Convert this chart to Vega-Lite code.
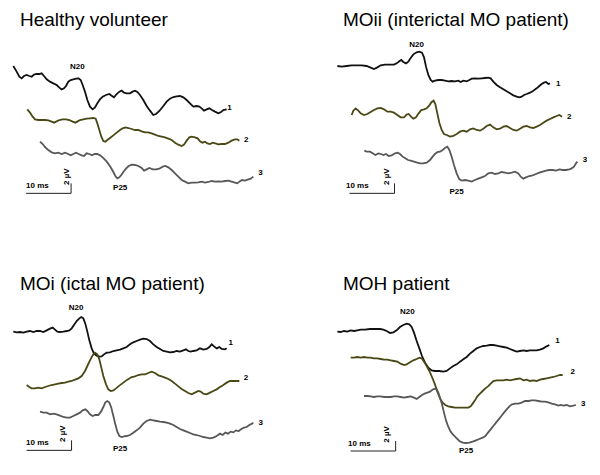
{
"$schema": "https://vega.github.io/schema/vega-lite/v6.json",
"padding": {"top": 11, "left": 0, "right": 0, "bottom": 0},
"background": "white",
"config": {"view": {"stroke": null}, "title": {"anchor": "start", "font": "Liberation Sans", "fontSize": 19, "fontWeight": "normal", "offset": 10, "color": "#000000"}, "text": {"font": "Liberation Sans", "fontWeight": "bold", "fontSize": 8, "color": "#000000"}, "line": {"strokeWidth": 1.8}},
"datasets": {
"HV1": [{"t":2.96,"v":13.2},{"t":3.70,"v":14.33},{"t":4.30,"v":15.33},{"t":4.81,"v":15.67},{"t":5.33,"v":15.2},{"t":5.93,"v":15.0},{"t":6.52,"v":15.2},{"t":7.04,"v":15.33},{"t":7.56,"v":14.93},{"t":8.15,"v":14.8},{"t":8.74,"v":14.8},{"t":9.26,"v":14.67},{"t":9.78,"v":15.2},{"t":10.37,"v":15.87},{"t":11.11,"v":16.33},{"t":11.85,"v":16.67},{"t":12.59,"v":17.0},{"t":13.19,"v":17.53},{"t":13.70,"v":17.87},{"t":14.22,"v":17.67},{"t":14.67,"v":17.2},{"t":15.19,"v":16.33},{"t":15.70,"v":16.0},{"t":16.30,"v":15.87},{"t":16.89,"v":15.73},{"t":17.48,"v":15.67},{"t":17.93,"v":16.0},{"t":18.37,"v":17.0},{"t":18.89,"v":18.33},{"t":19.41,"v":20.0},{"t":20.0,"v":21.33},{"t":20.59,"v":21.87},{"t":21.11,"v":21.47},{"t":21.63,"v":20.67},{"t":22.22,"v":19.87},{"t":22.81,"v":19.33},{"t":23.56,"v":19.0},{"t":24.30,"v":18.8},{"t":24.81,"v":19.13},{"t":25.33,"v":19.47},{"t":25.93,"v":18.8},{"t":26.52,"v":18.33},{"t":27.04,"v":18.13},{"t":27.56,"v":18.53},{"t":28.15,"v":18.67},{"t":28.89,"v":18.67},{"t":29.48,"v":18.33},{"t":30.0,"v":18.13},{"t":30.52,"v":18.4},{"t":31.11,"v":19.0},{"t":31.85,"v":20.0},{"t":32.59,"v":21.2},{"t":33.33,"v":22.13},{"t":34.07,"v":23.0},{"t":34.67,"v":22.8},{"t":35.41,"v":22.2},{"t":36.30,"v":21.2},{"t":37.04,"v":20.33},{"t":37.78,"v":19.73},{"t":38.52,"v":19.4},{"t":39.26,"v":19.27},{"t":40.0,"v":19.2},{"t":40.74,"v":19.47},{"t":41.48,"v":20.0},{"t":42.22,"v":20.67},{"t":42.96,"v":21.33},{"t":43.70,"v":21.2},{"t":44.30,"v":21.33},{"t":44.81,"v":21.67},{"t":45.33,"v":22.13},{"t":45.93,"v":21.87},{"t":46.52,"v":21.67},{"t":47.11,"v":22.0},{"t":47.78,"v":22.33},{"t":48.52,"v":22.67},{"t":49.04,"v":22.47},{"t":49.63,"v":22.0},{"t":50.37,"v":21.87}],
"HV2": [{"t":6.07,"v":21.87},{"t":6.67,"v":22.53},{"t":7.26,"v":23.33},{"t":7.78,"v":23.87},{"t":8.52,"v":24.0},{"t":9.26,"v":24.0},{"t":10.0,"v":24.0},{"t":10.74,"v":24.07},{"t":11.48,"v":24.33},{"t":12.0,"v":24.53},{"t":12.59,"v":24.27},{"t":13.19,"v":24.0},{"t":13.93,"v":23.87},{"t":14.67,"v":23.87},{"t":15.41,"v":24.0},{"t":16.15,"v":24.33},{"t":16.74,"v":24.53},{"t":17.26,"v":24.27},{"t":17.78,"v":24.0},{"t":18.52,"v":23.87},{"t":19.26,"v":23.73},{"t":20.0,"v":23.67},{"t":20.74,"v":23.6},{"t":21.26,"v":23.73},{"t":21.63,"v":24.67},{"t":22.07,"v":26.0},{"t":22.52,"v":27.33},{"t":22.96,"v":28.2},{"t":23.41,"v":28.33},{"t":23.85,"v":28.0},{"t":24.44,"v":27.6},{"t":25.19,"v":27.07},{"t":25.93,"v":26.53},{"t":26.67,"v":26.0},{"t":27.26,"v":25.67},{"t":27.85,"v":25.47},{"t":28.52,"v":25.6},{"t":29.26,"v":25.8},{"t":30.0,"v":26.0},{"t":30.74,"v":26.0},{"t":31.48,"v":26.27},{"t":32.22,"v":26.47},{"t":32.96,"v":26.47},{"t":33.70,"v":26.67},{"t":34.44,"v":26.93},{"t":35.19,"v":27.2},{"t":35.93,"v":27.33},{"t":36.67,"v":27.47},{"t":37.41,"v":27.73},{"t":38.15,"v":28.0},{"t":38.89,"v":28.53},{"t":39.63,"v":28.93},{"t":40.37,"v":29.2},{"t":40.89,"v":28.93},{"t":41.48,"v":28.13},{"t":42.07,"v":27.47},{"t":42.59,"v":27.33},{"t":43.33,"v":27.47},{"t":43.93,"v":27.67},{"t":44.44,"v":28.27},{"t":44.96,"v":28.53},{"t":45.56,"v":28.33},{"t":46.07,"v":28.67},{"t":46.67,"v":28.8},{"t":47.26,"v":28.53},{"t":47.85,"v":28.67},{"t":48.52,"v":28.87},{"t":49.26,"v":28.8},{"t":50.0,"v":28.8},{"t":50.74,"v":28.53},{"t":51.48,"v":28.13},{"t":52.22,"v":27.87},{"t":52.74,"v":27.87},{"t":53.19,"v":28.13}],
"HV3": [{"t":8.89,"v":28.33},{"t":9.48,"v":28.8},{"t":10.07,"v":29.47},{"t":10.74,"v":30.0},{"t":11.48,"v":30.47},{"t":12.22,"v":30.67},{"t":12.96,"v":30.53},{"t":13.70,"v":30.8},{"t":14.44,"v":30.53},{"t":15.19,"v":30.8},{"t":15.70,"v":31.07},{"t":16.30,"v":30.8},{"t":16.89,"v":30.53},{"t":17.48,"v":30.8},{"t":18.15,"v":31.07},{"t":18.67,"v":31.2},{"t":19.26,"v":30.67},{"t":19.85,"v":30.8},{"t":20.44,"v":31.07},{"t":21.04,"v":30.8},{"t":21.63,"v":30.8},{"t":22.22,"v":31.07},{"t":22.81,"v":31.47},{"t":23.41,"v":32.0},{"t":24.0,"v":32.67},{"t":24.59,"v":33.47},{"t":25.19,"v":34.4},{"t":25.63,"v":35.2},{"t":26.07,"v":35.67},{"t":26.52,"v":35.47},{"t":26.96,"v":35.0},{"t":27.41,"v":34.4},{"t":28.0,"v":33.73},{"t":28.59,"v":33.2},{"t":29.26,"v":32.93},{"t":30.0,"v":33.0},{"t":30.74,"v":33.2},{"t":31.48,"v":33.6},{"t":32.0,"v":34.13},{"t":32.59,"v":33.87},{"t":33.19,"v":33.6},{"t":33.93,"v":33.87},{"t":34.67,"v":33.87},{"t":35.41,"v":33.73},{"t":36.15,"v":33.33},{"t":36.74,"v":33.2},{"t":37.41,"v":33.47},{"t":38.15,"v":34.0},{"t":38.89,"v":34.67},{"t":39.63,"v":35.33},{"t":40.37,"v":36.0},{"t":41.11,"v":36.33},{"t":41.85,"v":36.67},{"t":42.59,"v":36.53},{"t":43.33,"v":36.53},{"t":44.07,"v":36.47},{"t":44.81,"v":36.33},{"t":45.56,"v":36.53},{"t":46.30,"v":36.4},{"t":47.04,"v":36.2},{"t":47.78,"v":36.33},{"t":48.52,"v":36.27},{"t":49.26,"v":36.33},{"t":50.0,"v":36.2},{"t":50.74,"v":36.13},{"t":51.48,"v":36.33},{"t":52.22,"v":36.53},{"t":52.74,"v":36.67},{"t":53.19,"v":36.33},{"t":53.78,"v":36.0},{"t":54.44,"v":36.13},{"t":55.19,"v":35.87},{"t":55.70,"v":35.73},{"t":56.30,"v":35.33}],
"MOii1": [{"t":8.30,"v":13.2},{"t":9.26,"v":13.33},{"t":10.37,"v":13.2},{"t":11.48,"v":13.07},{"t":12.59,"v":13.07},{"t":13.70,"v":13.07},{"t":14.81,"v":13.2},{"t":15.70,"v":13.53},{"t":16.44,"v":13.8},{"t":17.19,"v":13.47},{"t":17.93,"v":13.07},{"t":18.89,"v":12.93},{"t":20.0,"v":12.93},{"t":20.89,"v":12.93},{"t":21.48,"v":12.67},{"t":22.07,"v":12.27},{"t":22.52,"v":12.0},{"t":22.96,"v":12.4},{"t":23.56,"v":12.67},{"t":24.07,"v":12.33},{"t":24.59,"v":11.6},{"t":25.19,"v":10.87},{"t":25.93,"v":10.47},{"t":26.52,"v":10.33},{"t":27.11,"v":10.53},{"t":27.56,"v":11.47},{"t":28.0,"v":13.33},{"t":28.52,"v":15.0},{"t":29.04,"v":16.0},{"t":29.48,"v":16.33},{"t":30.0,"v":16.13},{"t":30.74,"v":16.0},{"t":31.48,"v":16.0},{"t":32.22,"v":16.13},{"t":32.96,"v":16.27},{"t":33.70,"v":16.2},{"t":34.44,"v":16.27},{"t":35.19,"v":16.13},{"t":35.70,"v":16.4},{"t":36.30,"v":16.13},{"t":37.04,"v":16.27},{"t":37.63,"v":16.0},{"t":38.15,"v":15.73},{"t":38.89,"v":15.67},{"t":39.63,"v":15.73},{"t":40.37,"v":15.67},{"t":41.11,"v":15.6},{"t":41.85,"v":15.53},{"t":42.37,"v":15.67},{"t":42.96,"v":16.33},{"t":43.70,"v":17.0},{"t":44.44,"v":17.47},{"t":45.19,"v":17.87},{"t":45.93,"v":18.27},{"t":46.67,"v":18.67},{"t":47.41,"v":19.07},{"t":48.15,"v":19.33},{"t":48.74,"v":19.47},{"t":49.26,"v":19.33},{"t":49.78,"v":19.0},{"t":50.37,"v":18.8},{"t":51.11,"v":18.53},{"t":51.85,"v":18.13},{"t":52.59,"v":17.67},{"t":53.19,"v":17.2},{"t":53.70,"v":16.8},{"t":54.22,"v":16.53},{"t":54.67,"v":16.4},{"t":55.19,"v":16.8},{"t":55.56,"v":16.67}],
"MOii2": [{"t":11.48,"v":23.0},{"t":11.85,"v":22.13},{"t":12.37,"v":21.67},{"t":12.96,"v":22.13},{"t":13.48,"v":22.67},{"t":14.22,"v":23.0},{"t":14.96,"v":22.8},{"t":15.70,"v":22.4},{"t":16.44,"v":22.0},{"t":17.19,"v":21.67},{"t":17.93,"v":21.6},{"t":18.67,"v":21.87},{"t":19.41,"v":22.33},{"t":20.15,"v":22.33},{"t":20.89,"v":22.53},{"t":21.63,"v":23.0},{"t":22.37,"v":23.47},{"t":23.11,"v":23.47},{"t":23.70,"v":22.93},{"t":24.15,"v":22.8},{"t":24.67,"v":23.33},{"t":25.19,"v":23.73},{"t":25.78,"v":23.47},{"t":26.37,"v":22.67},{"t":26.96,"v":22.0},{"t":27.56,"v":21.87},{"t":28.15,"v":21.67},{"t":28.74,"v":21.07},{"t":29.26,"v":20.4},{"t":29.70,"v":20.13},{"t":30.07,"v":20.8},{"t":30.52,"v":22.67},{"t":30.96,"v":24.53},{"t":31.48,"v":26.0},{"t":32.0,"v":26.8},{"t":32.59,"v":27.0},{"t":33.33,"v":27.33},{"t":34.07,"v":27.2},{"t":34.81,"v":26.8},{"t":35.56,"v":26.33},{"t":36.30,"v":26.13},{"t":37.04,"v":26.33},{"t":37.78,"v":25.87},{"t":38.52,"v":25.67},{"t":39.26,"v":26.0},{"t":40.0,"v":26.13},{"t":40.74,"v":25.73},{"t":41.48,"v":25.2},{"t":42.22,"v":24.93},{"t":42.96,"v":25.47},{"t":43.70,"v":25.87},{"t":44.44,"v":25.73},{"t":45.19,"v":25.33},{"t":45.93,"v":25.2},{"t":46.67,"v":25.6},{"t":47.41,"v":26.0},{"t":48.15,"v":26.13},{"t":48.89,"v":25.73},{"t":49.63,"v":25.33},{"t":50.37,"v":25.2},{"t":51.11,"v":25.47},{"t":51.85,"v":25.6},{"t":52.59,"v":25.33},{"t":53.33,"v":25.0},{"t":54.07,"v":24.53},{"t":54.81,"v":24.13},{"t":55.56,"v":23.8},{"t":56.30,"v":23.47},{"t":57.04,"v":23.2},{"t":57.63,"v":23.0},{"t":58.22,"v":23.33}],
"MOii3": [{"t":14.30,"v":30.13},{"t":14.81,"v":30.33},{"t":15.56,"v":30.33},{"t":16.15,"v":30.67},{"t":16.74,"v":31.0},{"t":17.41,"v":30.67},{"t":18.0,"v":30.8},{"t":18.52,"v":31.0},{"t":19.11,"v":30.8},{"t":19.70,"v":31.2},{"t":20.37,"v":31.07},{"t":21.11,"v":30.67},{"t":21.70,"v":30.53},{"t":22.22,"v":30.8},{"t":22.81,"v":31.33},{"t":23.41,"v":31.67},{"t":24.0,"v":32.0},{"t":24.59,"v":32.13},{"t":25.33,"v":32.33},{"t":26.07,"v":32.53},{"t":26.67,"v":32.67},{"t":27.41,"v":32.67},{"t":28.15,"v":32.53},{"t":28.89,"v":32.0},{"t":29.48,"v":31.33},{"t":30.0,"v":30.8},{"t":30.52,"v":30.4},{"t":31.11,"v":30.33},{"t":31.70,"v":30.0},{"t":32.30,"v":29.53},{"t":32.74,"v":29.33},{"t":33.19,"v":30.0},{"t":33.70,"v":31.33},{"t":34.22,"v":33.0},{"t":34.81,"v":34.67},{"t":35.41,"v":35.87},{"t":36.0,"v":36.13},{"t":36.67,"v":36.0},{"t":37.41,"v":36.13},{"t":38.15,"v":36.33},{"t":38.89,"v":36.0},{"t":39.63,"v":35.73},{"t":40.37,"v":35.47},{"t":41.11,"v":35.2},{"t":41.85,"v":34.67},{"t":42.59,"v":34.53},{"t":43.33,"v":34.8},{"t":44.07,"v":34.67},{"t":44.81,"v":34.4},{"t":45.56,"v":34.53},{"t":46.30,"v":34.67},{"t":47.04,"v":34.53},{"t":47.78,"v":34.33},{"t":48.52,"v":34.67},{"t":49.04,"v":35.33},{"t":49.63,"v":35.73},{"t":50.22,"v":35.47},{"t":50.96,"v":35.2},{"t":51.70,"v":35.07},{"t":52.44,"v":34.8},{"t":53.19,"v":34.53},{"t":53.93,"v":34.33},{"t":54.67,"v":34.13},{"t":55.41,"v":34.0},{"t":56.15,"v":34.0},{"t":56.89,"v":34.13},{"t":57.63,"v":33.87},{"t":58.37,"v":34.0},{"t":59.11,"v":34.0},{"t":59.85,"v":33.87},{"t":60.37,"v":33.67},{"t":60.89,"v":33.33},{"t":61.33,"v":32.67},{"t":61.63,"v":32.33}],
"MOi1": [{"t":2.96,"v":14.13},{"t":3.70,"v":14.27},{"t":4.44,"v":14.2},{"t":5.19,"v":14.33},{"t":5.93,"v":14.13},{"t":6.67,"v":14.0},{"t":7.41,"v":14.2},{"t":8.15,"v":14.0},{"t":8.89,"v":14.0},{"t":9.63,"v":14.2},{"t":10.37,"v":13.87},{"t":11.11,"v":13.53},{"t":11.70,"v":13.33},{"t":12.22,"v":13.73},{"t":12.74,"v":14.13},{"t":13.33,"v":14.2},{"t":14.07,"v":14.13},{"t":14.81,"v":14.0},{"t":15.41,"v":13.87},{"t":15.93,"v":13.47},{"t":16.44,"v":12.8},{"t":17.04,"v":12.0},{"t":17.63,"v":11.47},{"t":18.07,"v":11.2},{"t":18.52,"v":11.47},{"t":18.96,"v":12.53},{"t":19.41,"v":14.13},{"t":19.85,"v":15.87},{"t":20.37,"v":17.47},{"t":20.89,"v":18.53},{"t":21.48,"v":18.93},{"t":22.07,"v":19.13},{"t":22.59,"v":19.07},{"t":23.11,"v":18.67},{"t":23.70,"v":18.33},{"t":24.44,"v":18.27},{"t":25.19,"v":18.0},{"t":25.93,"v":17.87},{"t":26.67,"v":17.73},{"t":27.41,"v":17.47},{"t":28.15,"v":17.2},{"t":28.89,"v":16.67},{"t":29.63,"v":16.27},{"t":30.37,"v":16.0},{"t":31.11,"v":15.73},{"t":31.85,"v":15.53},{"t":32.59,"v":15.6},{"t":33.33,"v":16.0},{"t":34.07,"v":16.67},{"t":34.81,"v":17.2},{"t":35.56,"v":17.6},{"t":36.30,"v":18.0},{"t":37.04,"v":18.13},{"t":37.78,"v":18.27},{"t":38.52,"v":18.2},{"t":39.26,"v":18.0},{"t":40.0,"v":18.13},{"t":40.74,"v":17.87},{"t":41.33,"v":17.67},{"t":41.85,"v":18.0},{"t":42.37,"v":18.13},{"t":42.96,"v":18.0},{"t":43.70,"v":17.87},{"t":44.44,"v":17.47},{"t":45.19,"v":17.73},{"t":45.93,"v":17.6},{"t":46.52,"v":17.2},{"t":47.04,"v":16.67},{"t":47.56,"v":17.07},{"t":48.15,"v":17.47},{"t":48.74,"v":17.2},{"t":49.26,"v":17.6},{"t":50.0,"v":17.67},{"t":50.37,"v":17.47}],
"MOi2": [{"t":5.93,"v":24.8},{"t":6.52,"v":25.2},{"t":7.04,"v":25.47},{"t":7.78,"v":25.47},{"t":8.52,"v":25.33},{"t":9.26,"v":25.47},{"t":10.0,"v":25.2},{"t":10.74,"v":25.0},{"t":11.48,"v":24.8},{"t":12.22,"v":24.67},{"t":12.96,"v":24.53},{"t":13.70,"v":24.4},{"t":14.44,"v":24.33},{"t":15.19,"v":24.13},{"t":15.93,"v":24.0},{"t":16.67,"v":23.73},{"t":17.41,"v":23.47},{"t":18.15,"v":23.0},{"t":18.89,"v":22.0},{"t":19.41,"v":21.0},{"t":20.0,"v":19.87},{"t":20.59,"v":18.87},{"t":21.11,"v":18.33},{"t":21.63,"v":18.67},{"t":22.07,"v":19.67},{"t":22.52,"v":21.33},{"t":22.96,"v":23.0},{"t":23.56,"v":24.67},{"t":24.07,"v":25.67},{"t":24.59,"v":26.0},{"t":25.19,"v":25.87},{"t":25.78,"v":25.47},{"t":26.52,"v":24.93},{"t":27.41,"v":24.33},{"t":28.30,"v":23.73},{"t":29.26,"v":23.2},{"t":30.0,"v":23.07},{"t":30.74,"v":22.8},{"t":31.48,"v":22.67},{"t":32.22,"v":22.67},{"t":32.96,"v":22.4},{"t":33.70,"v":22.13},{"t":34.44,"v":22.4},{"t":35.19,"v":22.87},{"t":35.93,"v":23.07},{"t":36.67,"v":23.33},{"t":37.41,"v":23.6},{"t":38.15,"v":24.0},{"t":38.89,"v":24.53},{"t":39.63,"v":25.07},{"t":40.37,"v":25.6},{"t":41.11,"v":26.0},{"t":41.85,"v":26.4},{"t":42.59,"v":26.67},{"t":43.33,"v":26.33},{"t":44.07,"v":26.0},{"t":44.59,"v":26.13},{"t":45.19,"v":26.53},{"t":45.93,"v":26.67},{"t":46.67,"v":26.33},{"t":47.41,"v":26.0},{"t":48.15,"v":25.67},{"t":48.89,"v":25.2},{"t":49.63,"v":24.8},{"t":50.37,"v":24.33},{"t":51.11,"v":24.0},{"t":51.85,"v":24.0},{"t":52.59,"v":24.0},{"t":53.19,"v":24.0}],
"MOi3": [{"t":8.89,"v":30.13},{"t":9.63,"v":30.33},{"t":10.37,"v":30.33},{"t":11.11,"v":30.67},{"t":11.85,"v":30.53},{"t":12.59,"v":30.67},{"t":13.33,"v":30.93},{"t":14.07,"v":31.2},{"t":14.81,"v":31.33},{"t":15.56,"v":31.33},{"t":16.30,"v":31.0},{"t":17.04,"v":30.67},{"t":17.78,"v":30.33},{"t":18.37,"v":29.87},{"t":18.96,"v":29.67},{"t":19.41,"v":30.0},{"t":20.0,"v":30.67},{"t":20.59,"v":31.0},{"t":21.19,"v":30.8},{"t":21.85,"v":30.8},{"t":22.44,"v":30.13},{"t":22.96,"v":29.2},{"t":23.41,"v":28.27},{"t":23.85,"v":28.0},{"t":24.30,"v":28.33},{"t":24.74,"v":29.33},{"t":25.19,"v":31.0},{"t":25.63,"v":32.67},{"t":26.07,"v":34.13},{"t":26.52,"v":35.0},{"t":27.04,"v":35.2},{"t":27.56,"v":35.07},{"t":28.15,"v":35.0},{"t":28.89,"v":34.8},{"t":29.63,"v":34.33},{"t":30.37,"v":33.87},{"t":31.11,"v":33.33},{"t":31.85,"v":32.53},{"t":32.59,"v":32.0},{"t":33.33,"v":31.73},{"t":34.07,"v":31.87},{"t":34.81,"v":32.0},{"t":35.56,"v":32.13},{"t":36.30,"v":32.2},{"t":37.04,"v":32.33},{"t":37.78,"v":32.53},{"t":38.52,"v":32.8},{"t":39.26,"v":33.2},{"t":40.0,"v":33.6},{"t":40.74,"v":33.87},{"t":41.48,"v":34.13},{"t":42.22,"v":34.4},{"t":42.96,"v":34.67},{"t":43.70,"v":34.8},{"t":44.44,"v":35.0},{"t":45.19,"v":35.2},{"t":45.93,"v":35.33},{"t":46.67,"v":35.47},{"t":47.41,"v":35.33},{"t":48.15,"v":35.0},{"t":48.89,"v":34.53},{"t":49.48,"v":34.8},{"t":50.07,"v":34.33},{"t":50.67,"v":34.53},{"t":51.26,"v":34.13},{"t":51.85,"v":34.27},{"t":52.44,"v":33.87},{"t":53.04,"v":34.0},{"t":53.63,"v":33.6},{"t":54.22,"v":33.33},{"t":54.81,"v":33.2},{"t":55.41,"v":32.8},{"t":56.0,"v":32.53},{"t":56.30,"v":32.33}],
"MOH1": [{"t":8.30,"v":14.13},{"t":9.04,"v":14.2},{"t":9.78,"v":14.0},{"t":10.52,"v":14.13},{"t":11.26,"v":13.87},{"t":12.0,"v":14.0},{"t":12.74,"v":13.87},{"t":13.48,"v":13.73},{"t":14.44,"v":13.73},{"t":15.56,"v":13.6},{"t":16.67,"v":13.6},{"t":17.78,"v":13.6},{"t":18.52,"v":13.73},{"t":19.26,"v":14.0},{"t":20.0,"v":14.4},{"t":20.74,"v":14.27},{"t":21.48,"v":13.87},{"t":22.22,"v":13.2},{"t":22.96,"v":12.8},{"t":23.70,"v":12.53},{"t":24.30,"v":12.67},{"t":24.81,"v":13.2},{"t":25.33,"v":14.33},{"t":25.93,"v":16.0},{"t":26.52,"v":17.47},{"t":27.11,"v":19.0},{"t":27.78,"v":20.33},{"t":28.52,"v":21.33},{"t":29.26,"v":21.87},{"t":30.0,"v":22.0},{"t":30.96,"v":22.0},{"t":31.85,"v":22.13},{"t":32.59,"v":22.0},{"t":33.33,"v":21.47},{"t":34.07,"v":21.0},{"t":34.81,"v":20.67},{"t":35.56,"v":20.13},{"t":36.30,"v":19.67},{"t":37.04,"v":19.2},{"t":37.78,"v":18.53},{"t":38.52,"v":18.0},{"t":39.26,"v":17.47},{"t":40.0,"v":17.2},{"t":40.74,"v":17.0},{"t":41.48,"v":16.93},{"t":42.22,"v":16.8},{"t":42.96,"v":16.8},{"t":43.70,"v":16.93},{"t":44.44,"v":17.07},{"t":45.19,"v":17.2},{"t":45.93,"v":17.33},{"t":46.67,"v":17.6},{"t":47.41,"v":17.87},{"t":48.15,"v":18.13},{"t":48.89,"v":18.0},{"t":49.63,"v":17.87},{"t":50.37,"v":18.0},{"t":51.11,"v":17.87},{"t":51.85,"v":17.87},{"t":52.59,"v":17.87},{"t":53.33,"v":17.73},{"t":54.07,"v":17.47},{"t":54.81,"v":17.07},{"t":55.41,"v":16.8}],
"MOH2": [{"t":11.26,"v":19.33},{"t":12.0,"v":19.33},{"t":12.74,"v":19.2},{"t":13.48,"v":19.33},{"t":14.22,"v":19.2},{"t":14.96,"v":19.33},{"t":15.70,"v":19.33},{"t":16.44,"v":19.47},{"t":17.19,"v":19.47},{"t":17.93,"v":19.6},{"t":18.67,"v":19.73},{"t":19.41,"v":19.73},{"t":20.15,"v":19.87},{"t":20.89,"v":20.0},{"t":21.63,"v":20.13},{"t":22.37,"v":20.53},{"t":23.11,"v":20.8},{"t":23.70,"v":20.67},{"t":24.44,"v":20.27},{"t":25.19,"v":19.87},{"t":25.93,"v":19.6},{"t":26.52,"v":19.33},{"t":27.04,"v":19.47},{"t":27.56,"v":20.13},{"t":28.15,"v":21.0},{"t":28.74,"v":22.0},{"t":29.33,"v":23.2},{"t":29.93,"v":24.53},{"t":30.52,"v":26.13},{"t":31.11,"v":27.47},{"t":31.70,"v":28.33},{"t":32.30,"v":28.8},{"t":32.96,"v":29.07},{"t":33.70,"v":29.2},{"t":34.44,"v":29.33},{"t":35.19,"v":29.33},{"t":35.93,"v":29.33},{"t":36.67,"v":29.33},{"t":37.41,"v":29.33},{"t":37.93,"v":29.07},{"t":38.37,"v":28.53},{"t":38.89,"v":27.87},{"t":39.41,"v":27.07},{"t":40.0,"v":26.53},{"t":40.59,"v":26.0},{"t":41.19,"v":25.47},{"t":41.78,"v":25.07},{"t":42.37,"v":24.53},{"t":42.96,"v":24.0},{"t":43.70,"v":23.87},{"t":44.44,"v":23.87},{"t":45.19,"v":23.87},{"t":45.93,"v":23.73},{"t":46.67,"v":23.87},{"t":47.41,"v":23.73},{"t":48.15,"v":23.6},{"t":48.89,"v":23.47},{"t":49.63,"v":23.87},{"t":50.37,"v":23.73},{"t":51.11,"v":24.0},{"t":51.85,"v":23.87},{"t":52.59,"v":24.0},{"t":53.33,"v":23.73},{"t":54.07,"v":23.6},{"t":54.81,"v":23.47},{"t":55.56,"v":23.33},{"t":56.30,"v":23.2},{"t":57.04,"v":23.0},{"t":57.78,"v":22.8},{"t":58.37,"v":22.8}],
"MOH3": [{"t":14.22,"v":27.0},{"t":14.96,"v":27.0},{"t":15.70,"v":27.07},{"t":16.44,"v":27.2},{"t":17.19,"v":27.07},{"t":17.93,"v":27.07},{"t":18.67,"v":27.2},{"t":19.41,"v":27.2},{"t":20.15,"v":27.2},{"t":20.89,"v":27.07},{"t":21.63,"v":27.07},{"t":22.37,"v":27.2},{"t":23.11,"v":27.33},{"t":23.85,"v":27.2},{"t":24.59,"v":27.07},{"t":25.33,"v":27.33},{"t":25.93,"v":27.6},{"t":26.52,"v":27.2},{"t":27.11,"v":26.8},{"t":27.70,"v":26.53},{"t":28.30,"v":26.33},{"t":28.89,"v":26.13},{"t":29.48,"v":25.73},{"t":30.0,"v":25.53},{"t":30.37,"v":25.67},{"t":30.74,"v":26.33},{"t":31.11,"v":27.33},{"t":31.56,"v":28.67},{"t":32.0,"v":30.33},{"t":32.44,"v":31.87},{"t":32.96,"v":33.2},{"t":33.48,"v":34.13},{"t":34.07,"v":34.8},{"t":34.67,"v":35.33},{"t":35.41,"v":36.0},{"t":36.15,"v":36.33},{"t":36.89,"v":36.4},{"t":37.63,"v":36.33},{"t":38.37,"v":36.13},{"t":39.11,"v":35.87},{"t":39.85,"v":35.6},{"t":40.59,"v":35.33},{"t":41.19,"v":35.0},{"t":41.78,"v":34.33},{"t":42.37,"v":33.67},{"t":42.96,"v":33.0},{"t":43.56,"v":32.33},{"t":44.15,"v":31.67},{"t":44.74,"v":31.0},{"t":45.33,"v":30.33},{"t":45.93,"v":29.67},{"t":46.52,"v":29.07},{"t":47.11,"v":28.67},{"t":47.78,"v":28.53},{"t":48.52,"v":28.53},{"t":49.26,"v":28.33},{"t":50.0,"v":28.0},{"t":50.74,"v":28.0},{"t":51.48,"v":27.87},{"t":52.22,"v":27.87},{"t":52.96,"v":28.0},{"t":53.70,"v":28.13},{"t":54.44,"v":28.13},{"t":55.19,"v":28.27},{"t":55.93,"v":28.53},{"t":56.67,"v":28.67},{"t":57.41,"v":28.93},{"t":57.93,"v":28.8},{"t":58.52,"v":28.93},{"t":59.26,"v":28.8},{"t":60.0,"v":29.07},{"t":60.74,"v":28.93},{"t":61.33,"v":28.8}]
},
"vconcat": [
{"hconcat": [
{"title": {"text": "Healthy volunteer", "dx": 20}, "width": 300, "height": 200,
 "encoding": {"x": {"field": "t", "type": "quantitative", "scale": {"domain": [0, 66.667], "nice": false, "zero": false}, "axis": null}, "y": {"field": "v", "type": "quantitative", "scale": {"domain": [8, 48], "reverse": true, "nice": false, "zero": false}, "axis": null}},
 "layer": [
  {"data": {"name": "HV1"}, "mark": {"type": "line", "color": "#111111"}, "encoding": {}},
  {"data": {"name": "HV2"}, "mark": {"type": "line", "color": "#4a4814"}, "encoding": {}},
  {"data": {"name": "HV3"}, "mark": {"type": "line", "color": "#585858"}, "encoding": {}},
  {"data": {"values": [{"t": 5.8, "t2": 15.8, "v": 38.67, "v2": 38.67}, {"t": 15.8, "t2": 15.8, "v": 36.67, "v2": 38.67}]}, "mark": {"type": "rule", "color": "#222222", "strokeWidth": 1}, "encoding": {"x2": {"field": "t2"}, "y2": {"field": "v2"}}},
  {"data": {"values": [{"t": 17.2, "v": 13.3, "label": "N20"}, {"t": 51.0, "v": 21.5, "label": "1"}, {"t": 54.7, "v": 28.0, "label": "2"}, {"t": 57.9, "v": 34.67, "label": "3"}, {"t": 26.7, "v": 37.67, "label": "P25"}, {"t": 8.3, "v": 37.13, "label": "10 ms"}]}, "mark": {"type": "text"}, "encoding": {"text": {"field": "label"}}},
  {"data": {"values": [{"t": 14.8, "v": 35.33, "label": "2 µV"}]}, "mark": {"type": "text", "angle": 270}, "encoding": {"text": {"field": "label"}}}
 ]},
{"title": {"text": "MOii (interictal MO patient)", "dx": 43}, "width": 300, "height": 200,
 "encoding": {"x": {"field": "t", "type": "quantitative", "scale": {"domain": [0, 66.667], "nice": false, "zero": false}, "axis": null}, "y": {"field": "v", "type": "quantitative", "scale": {"domain": [8, 48], "reverse": true, "nice": false, "zero": false}, "axis": null}},
 "layer": [
  {"data": {"name": "MOii1"}, "mark": {"type": "line", "color": "#111111"}, "encoding": {}},
  {"data": {"name": "MOii2"}, "mark": {"type": "line", "color": "#4a4814"}, "encoding": {}},
  {"data": {"name": "MOii3"}, "mark": {"type": "line", "color": "#585858"}, "encoding": {}},
  {"data": {"values": [{"t": 11.0, "t2": 21.0, "v": 38.67, "v2": 38.67}, {"t": 21.0, "t2": 21.0, "v": 36.67, "v2": 38.67}]}, "mark": {"type": "rule", "color": "#222222", "strokeWidth": 1}, "encoding": {"x2": {"field": "t2"}, "y2": {"field": "v2"}}},
  {"data": {"values": [{"t": 25.93, "v": 9.0, "label": "N20"}, {"t": 57.4, "v": 16.8, "label": "1"}, {"t": 59.85, "v": 23.33, "label": "2"}, {"t": 63.3, "v": 32.0, "label": "3"}, {"t": 34.8, "v": 38.33, "label": "P25"}, {"t": 12.74, "v": 37.2, "label": "10 ms"}]}, "mark": {"type": "text"}, "encoding": {"text": {"field": "label"}}},
  {"data": {"values": [{"t": 19.4, "v": 35.33, "label": "2 µV"}]}, "mark": {"type": "text", "angle": 270}, "encoding": {"text": {"field": "label"}}}
 ]}
], "spacing": 0},
{"hconcat": [
{"title": {"text": "MOi (ictal MO patient)", "dx": 20}, "width": 300, "height": 172,
 "encoding": {"x": {"field": "t", "type": "quantitative", "scale": {"domain": [0, 66.667], "nice": false, "zero": false}, "axis": null}, "y": {"field": "v", "type": "quantitative", "scale": {"domain": [8.6, 43], "reverse": true, "nice": false, "zero": false}, "axis": null}},
 "layer": [
  {"data": {"name": "MOi1"}, "mark": {"type": "line", "color": "#111111"}, "encoding": {}},
  {"data": {"name": "MOi2"}, "mark": {"type": "line", "color": "#4a4814"}, "encoding": {}},
  {"data": {"name": "MOi3"}, "mark": {"type": "line", "color": "#585858"}, "encoding": {}},
  {"data": {"values": [{"t": 5.9, "t2": 15.9, "v": 37.87, "v2": 37.87}, {"t": 15.9, "t2": 15.9, "v": 35.87, "v2": 37.87}]}, "mark": {"type": "rule", "color": "#222222", "strokeWidth": 1}, "encoding": {"x2": {"field": "t2"}, "y2": {"field": "v2"}}},
  {"data": {"values": [{"t": 16.9, "v": 9.33, "label": "N20"}, {"t": 51.26, "v": 16.33, "label": "1"}, {"t": 54.67, "v": 23.47, "label": "2"}, {"t": 57.93, "v": 32.33, "label": "3"}, {"t": 26.67, "v": 37.67, "label": "P25"}, {"t": 8.3, "v": 36.33, "label": "10 ms"}]}, "mark": {"type": "text"}, "encoding": {"text": {"field": "label"}}},
  {"data": {"values": [{"t": 14.07, "v": 34.53, "label": "2 µV"}]}, "mark": {"type": "text", "angle": 270}, "encoding": {"text": {"field": "label"}}}
 ]},
{"title": {"text": "MOH patient", "dx": 43}, "width": 300, "height": 172,
 "encoding": {"x": {"field": "t", "type": "quantitative", "scale": {"domain": [0, 66.667], "nice": false, "zero": false}, "axis": null}, "y": {"field": "v", "type": "quantitative", "scale": {"domain": [8.6, 43], "reverse": true, "nice": false, "zero": false}, "axis": null}},
 "layer": [
  {"data": {"name": "MOH1"}, "mark": {"type": "line", "color": "#111111"}, "encoding": {}},
  {"data": {"name": "MOH2"}, "mark": {"type": "line", "color": "#4a4814"}, "encoding": {}},
  {"data": {"name": "MOH3"}, "mark": {"type": "line", "color": "#585858"}, "encoding": {}},
  {"data": {"values": [{"t": 11.26, "t2": 21.26, "v": 38.0, "v2": 38.0}, {"t": 21.26, "t2": 21.26, "v": 36.0, "v2": 38.0}]}, "mark": {"type": "rule", "color": "#222222", "strokeWidth": 1}, "encoding": {"x2": {"field": "t2"}, "y2": {"field": "v2"}}},
  {"data": {"values": [{"t": 23.85, "v": 10.13, "label": "N20"}, {"t": 57.19, "v": 16.0, "label": "1"}, {"t": 60.59, "v": 22.2, "label": "2"}, {"t": 62.96, "v": 28.53, "label": "3"}, {"t": 36.89, "v": 38.0, "label": "P25"}, {"t": 13.19, "v": 36.67, "label": "10 ms"}]}, "mark": {"type": "text"}, "encoding": {"text": {"field": "label"}}},
  {"data": {"values": [{"t": 19.41, "v": 34.67, "label": "2 µV"}]}, "mark": {"type": "text", "angle": 270}, "encoding": {"text": {"field": "label"}}}
 ]}
], "spacing": 0}
],
"spacing": 34
}
